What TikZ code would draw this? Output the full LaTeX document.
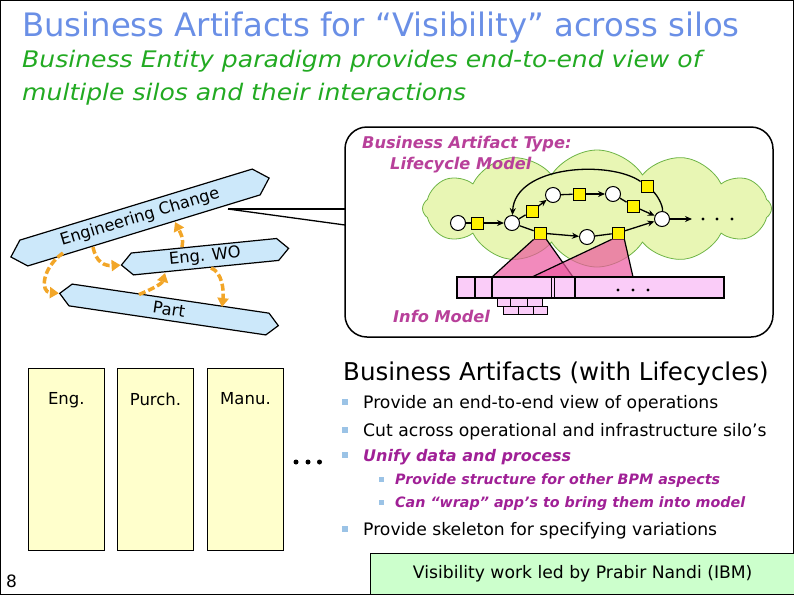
\documentclass[tikz,border=0pt]{standalone}
\usepackage{fontspec}
\setmainfont{DejaVu Sans}
\newfontfamily\widefont{DejaVu Sans}[FakeStretch=1.1]
\usetikzlibrary{positioning,shapes.symbols,arrows.meta}
\definecolor{titleblue}{RGB}{106,143,230}
\definecolor{subgreen}{RGB}{34,170,34}
\definecolor{lcmagenta}{RGB}{184,64,154}
\definecolor{bulletmag}{RGB}{160,32,150}
\definecolor{bulletblue}{RGB}{155,195,230}
\definecolor{bannerblue}{RGB}{204,232,250}
\definecolor{flowor}{RGB}{242,166,40}
\definecolor{silofill}{RGB}{255,255,204}
\definecolor{cloudfill}{RGB}{232,246,180}
\definecolor{cloudline}{RGB}{110,180,70}
\definecolor{infopink}{RGB}{250,204,248}
\definecolor{tripink}{RGB}{236,88,160}
\definecolor{notegreen}{RGB}{204,255,204}

\begin{document}
\begin{tikzpicture}[x=1pt,y=-1pt,
    banner/.style={signal, signal to=east and west, draw, fill=bannerblue, line width=1.2pt, minimum height=22pt, inner sep=0pt},
    bannertext/.style={inner sep=0pt, font=\fontsize{16.3}{16.3}\selectfont},
    flow/.style={flowor, line width=3.5pt, dash pattern=on 7pt off 3pt, -{Triangle[length=9pt,width=11pt]}},
    silo/.style={draw, fill=silofill, line width=1.5pt, minimum width=76pt, minimum height=182pt, anchor=north},
    silotext/.style={inner sep=0pt, font=\fontsize{16.5}{16.5}\selectfont},
    state/.style={circle, draw, fill=white, line width=1pt, minimum size=15pt, inner sep=0pt},
    evt/.style={draw, fill=yellow, line width=0.8pt, minimum size=12pt, inner sep=0pt},
    link/.style={line width=1.3pt},
    arr/.style={line width=1.3pt, -{Stealth[length=7pt,width=6pt]}},
    tri/.style={fill=tripink, fill opacity=0.7, draw=black, line width=1.2pt},
    lclabel/.style={anchor=base west, inner sep=0pt, text=lcmagenta, font=\fontsize{16.2}{16.2}\selectfont\bfseries\itshape},
    bull/.style={fill=bulletblue, minimum size=6pt, inner sep=0pt},
    subbull/.style={fill=bulletblue, minimum size=5pt, inner sep=0pt},
    btext/.style={anchor=base west, inner sep=0pt, font=\fontsize{17.2}{17.2}\selectfont},
    mtext/.style={anchor=base west, inner sep=0pt, text=bulletmag, font=\fontsize{14.3}{14.3}\selectfont\bfseries\itshape}]
    \useasboundingbox (0,0) rectangle (794,595);
    \draw[line width=1pt] (0.5,0.5) rectangle (793.5,594.5);

    % title
    \node[anchor=base west, inner sep=0pt, text=titleblue, font=\fontsize{32.3}{32.3}\selectfont] (title) at (22,36) {Business Artifacts for “Visibility” across silos};
    \node[anchor=base west, inner sep=0pt, text=subgreen, font=\fontsize{22.8}{22.8}\widefont\itshape] (sub1) at (22,67) {Business Entity paradigm provides end-to-end view of};
    \node[anchor=base west, inner sep=0pt, text=subgreen, font=\fontsize{22.8}{22.8}\widefont\itshape] (sub2) at (22,100) {multiple silos and their interactions};

    % lifecycle box
    \node[draw, line width=1.5pt, rounded corners=22pt, minimum width=428pt, minimum height=210pt] (lcbox) at (559,232) {};
    \coordinate (calltip) at (228,209);
    \coordinate (callA) at (345,209);
    \coordinate (callB) at (345,225);
    \draw[line width=1.3pt] (calltip) -- (callA);
    \draw[line width=1.3pt] (calltip) -- (callB);
    \node[cloud, cloud puffs=12, cloud puff arc=115, cloud ignores aspect, minimum width=349pt, minimum height=117pt, draw=cloudline, fill=cloudfill, line width=0.8pt] (lc) at (597,208.5) {};
    \node[lclabel] (lctype) at (362,148) {Business Artifact Type:};
    \node[lclabel] (lcmodel) at (390,169) {Lifecycle Model};
    \node[lclabel] (infolbl) at (393,322) {Info Model};

    % lifecycle graph
    \node[state] (c1) at (458,223) {};
    \node[evt] (s1) at (477,223) {};
    \node[state] (c2) at (512,223) {};
    \node[evt] (s2) at (532,211) {};
    \node[state] (c3) at (553,195) {};
    \node[evt] (s3) at (579,194) {};
    \node[state] (c4) at (613,194) {};
    \node[evt] (s4) at (633,206) {};
    \node[state] (c5) at (662,219) {};
    \node[evt] (s5) at (647,186) {};
    \node[evt] (s6) at (540,233) {};
    \node[state] (c6) at (587,237) {};
    \node[evt] (s7) at (618,233) {};
    \coordinate (lcend) at (692,219);
    \draw[link] (c1) -- (s1);
    \draw[arr] (s1) -- (c2);
    \draw[link] (c2) -- (s2);
    \draw[arr] (s2) -- (c3);
    \draw[link] (c3) -- (s3);
    \draw[arr] (s3) -- (c4);
    \draw[link] (c4) -- (s4);
    \draw[arr] (s4) -- (c5);
    \draw[link] (c2) -- (s6);
    \draw[arr] (s6) -- (c6);
    \draw[link] (c6) -- (s7);
    \draw[arr] (s7) -- (c5);
    \draw[arr] (c5) -- (lcend);
    \draw[link] (c5) .. controls (663,205) and (657,195) .. (s5);
    \draw[arr] (s5) .. controls (610,160) and (515,165) .. (c2);
    \fill (703,219) circle (1.6);
    \fill (717,219) circle (1.6);
    \fill (732,219) circle (1.6);

    % info model
    \filldraw[tri] (s6.south west) -- (492,277) -- (573,277) -- (s6.south east);
    \filldraw[tri] (s7.south west) -- (532,277) -- (633,277) -- (s7.south east);
    \draw[fill=infopink, line width=1.3pt] (457,277) rectangle (724,298);
    \draw[line width=1.3pt] (475,277) -- (475,298);
    \draw[line width=1.3pt] (492,277) -- (492,298);
    \draw[line width=0.6pt] (551,277) -- (551,298);
    \draw[line width=1pt] (554,277) -- (554,298);
    \draw[line width=1.3pt] (575,277) -- (575,298);
    \fill (618,290) circle (1.6);
    \fill (633,290) circle (1.6);
    \fill (648,290) circle (1.6);
    \draw[fill=infopink, line width=1pt] (497,298) rectangle (542,306.5);
    \draw[line width=1pt] (510,298) -- (510,306.5);
    \draw[line width=1pt] (527,298) -- (527,306.5);
    \draw[fill=infopink, line width=1pt] (503,306.5) rectangle (547,314);
    \draw[line width=1pt] (518,306.5) -- (518,314);
    \draw[line width=1pt] (533,306.5) -- (533,314);

    % banners
    \node[banner, rotate=17, minimum width=270pt, minimum height=27pt] (ec) at (140,217.5) {};
    \node[banner, rotate=5.7, minimum width=168pt] (wo) at (205,256.7) {};
    \node[banner, rotate=-8.4, minimum width=221pt] (part) at (169,309.5) {};
    \node[bannertext, rotate=17] (ectext) at (ec.center) {Engineering Change};
    \node[bannertext, rotate=5.7] (wotext) at (wo.center) {Eng. WO};
    \node[bannertext, rotate=-8.4] (parttext) at (part.center) {Part};
    \coordinate (fa) at (63,253);
    \coordinate (fb) at (93,247);
    \coordinate (fc) at (182,247);
    \coordinate (fcend) at (175,222);
    \coordinate (fd) at (139,294.5);
    \coordinate (fdend) at (165,273);
    \coordinate (fe) at (211,268);
    \coordinate (feend) at (222,307);
    \draw[flow] (fa) .. controls (42,268) and (40,292) .. (part.west);
    \draw[flow] (fb) .. controls (96,262) and (104,266) .. (wo.west);
    \draw[flow] (fc) .. controls (184,238) and (180,232) .. (fcend);
    \draw[flow] (fd) .. controls (150,290) and (162,284) .. (fdend);
    \draw[flow] (fe) .. controls (222,272) and (224,290) .. (feend);

    % silos
    \node[silo] (eng) at (66.3,367.7) {};
    \node[silo] (purch) at (155.5,367.7) {};
    \node[silo] (manu) at (245.5,367.7) {};
    \node[silotext, below=25pt of eng.north] (englbl) {Eng.};
    \node[silotext, below=25pt of purch.north] (purchlbl) {Purch.};
    \node[silotext, below=25pt of manu.north] (manulbl) {Manu.};
    \fill (296,462) circle (2.5);
    \fill (308,462) circle (2.5);
    \fill (319.5,462) circle (2.5);
    \node[anchor=base west, inner sep=0pt, font=\fontsize{17}{17}\selectfont] (pagenum) at (6,587) {8};

    % bullets
    \node[anchor=base west, inner sep=0pt, font=\fontsize{24.5}{24.5}\selectfont] (heading) at (343,380) {Business Artifacts (with Lifecycles)};
    \node[btext] (b1) at (363,408) {Provide an end-to-end view of operations};
    \node[btext] (b2) at (363,436) {Cut across operational and infrastructure silo’s};
    \node[btext, text=bulletmag, font=\fontsize{16}{16}\selectfont\bfseries\itshape] (b3) at (363,461) {Unify data and process};
    \node[mtext] (b4) at (395,484) {Provide structure for other BPM aspects};
    \node[mtext] (b5) at (395,507) {Can “wrap” app’s to bring them into model};
    \node[btext] (b6) at (363,535) {Provide skeleton for specifying variations};
    \node[bull] at (344.5,402) {};
    \node[bull] at (344.5,430) {};
    \node[bull] at (344.5,455) {};
    \node[subbull] at (381.5,479) {};
    \node[subbull] at (381.5,502) {};
    \node[bull] at (344.5,529) {};

    % note
    \node[draw, fill=notegreen, line width=1.3pt, minimum width=424pt, minimum height=41pt, anchor=south west, font=\fontsize{17.2}{17.2}\selectfont] (note) at (370,595) {Visibility work led by Prabir Nandi (IBM)};
\end{tikzpicture}
\end{document}
